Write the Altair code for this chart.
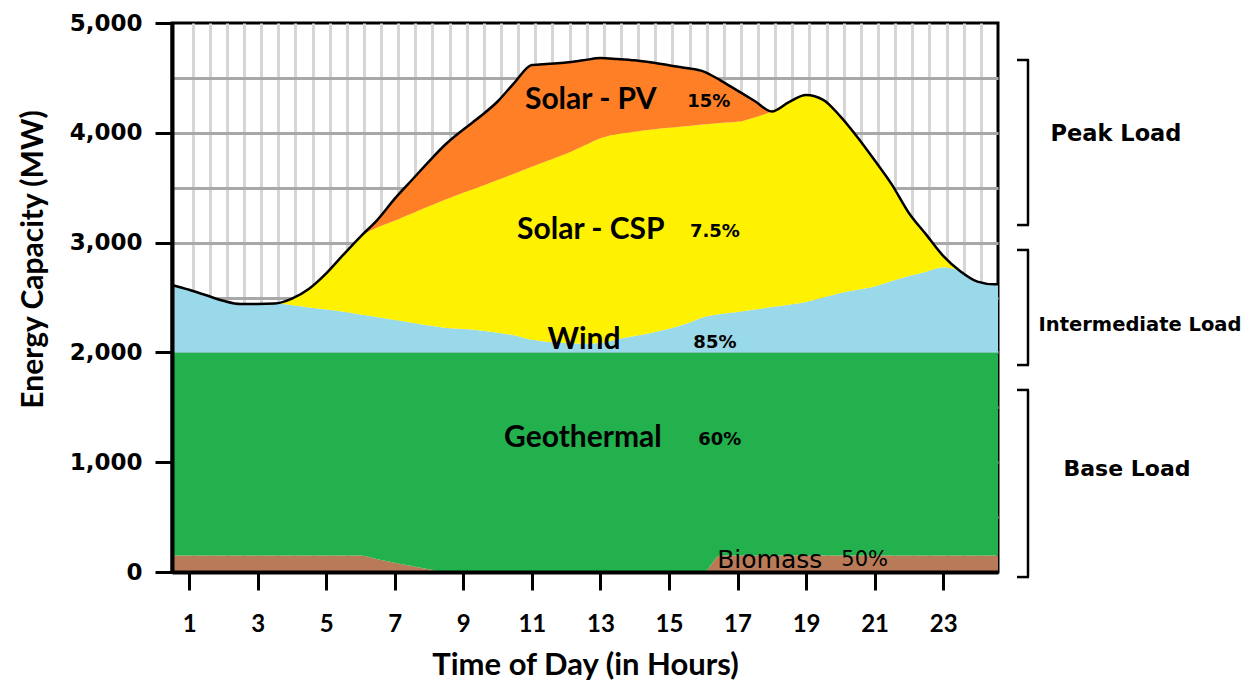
import altair as alt
import pandas as pd

# ---- data (MW) ----
hours = [0.5, 1.0, 1.5, 2.0, 2.5, 3.0, 3.5, 4.0, 4.5, 5.0, 5.5, 6.0,
         6.5, 7.0, 7.5, 8.0, 8.5, 9.0, 9.5, 10.0, 10.5, 11.0, 11.5, 12.0,
         12.5, 13.0, 13.5, 14.0, 14.5, 15.0, 15.5, 16.0, 16.5, 17.0, 17.5, 18.0,
         18.5, 19.0, 19.5, 20.0, 20.5, 21.0, 21.5, 22.0, 22.5, 23.0, 23.5, 24.0,
         24.5, 24.6]

biomass = [150, 150, 150, 150, 150, 150, 150, 150, 150, 150, 150, 150,
           115, 85, 55, 25, 0, 0, 0, 0, 0, 0, 0, 0,
           0, 0, 0, 0, 0, 0, 0, 0, 150, 150, 150, 150,
           150, 150, 150, 150, 150, 150, 150, 150, 150, 150, 150, 150,
           150, 150]

geothermal = [1850, 1850, 1850, 1850, 1850, 1850, 1850, 1850, 1850, 1850, 1850, 1850,
              1885, 1915, 1945, 1975, 2000, 2000, 2000, 2000, 2000, 2000, 2000, 2000,
              2000, 2000, 2000, 2000, 2000, 2000, 2000, 2000, 1850, 1850, 1850, 1850,
              1850, 1850, 1850, 1850, 1850, 1850, 1850, 1850, 1850, 1850, 1850, 1850,
              1850, 1850]

wind = [614, 570, 520, 470, 441, 441, 445, 430, 410, 390, 370, 345,
        320, 295, 270, 245, 222, 212, 200, 180, 155, 115, 95, 85,
        80, 85, 120, 150, 180, 215, 260, 320, 350, 368, 390, 413,
        435, 459, 500, 541, 570, 600, 650, 695, 735, 775, 740, 645,
        620, 620]

solar_csp = [0, 0, 0, 0, 0, 0, 0, 60, 170, 330, 520, 710,
             820, 905, 995, 1085, 1173, 1243, 1310, 1390, 1475, 1575, 1655, 1725,
             1800, 1865, 1870, 1860, 1850, 1830, 1800, 1755, 1740, 1732, 1750, 1782,
             1845, 1885, 1800, 1609, 1390, 1150, 880, 575, 340, 105, 0, 0,
             0, 0]

solar_pv = [0, 0, 0, 0, 0, 0, 0, 0, 0, 0, 0, 0,
            70, 200, 305, 410, 505, 575, 640, 715, 830, 927, 878, 830,
            780, 731, 682, 650, 610, 570, 530, 485, 388, 284, 150, 0,
            0, 0, 0, 0, 0, 0, 0, 0, 0, 0, 0, 0,
            0, 0]

sources = ["Biomass", "Geothermal", "Wind", "Solar - CSP", "Solar - PV"]
colors = ["#b97a57", "#22b14c", "#99d9ea", "#fff200", "#ff7f27"]

x_ticks = [1, 3, 5, 7, 9, 11, 13, 15, 17, 19, 21, 23]
y_ticks = [0, 1000, 2000, 3000, 4000, 5000]

# in-plot labels
name_labels = ["Solar - PV", "Solar - CSP", "Wind", "Geothermal"]
name_hours = [12.72, 12.72, 12.52, 12.49]
name_mw = [4300, 3115, 2113, 1220]
pct_labels = ["15%", "7.5%", "85%", "60%"]
pct_hours = [16.16, 16.34, 16.34, 16.48]
pct_mw = [4280, 3097, 2086, 1202]
bio_labels = ["Biomass"]
bio_hours = [17.94]
bio_mw = [112]
bio_pct_labels = ["50%"]
bio_pct_hours = [20.71]
bio_pct_mw = [105]

# load bands on the right
band_names = ["Peak Load", "Intermediate Load", "Base Load"]
band_top = [4663, 2933, 1658]
band_bottom = [3160, 1885, -46]
band_label_mw = [3985, 2245, 940]

# ---- tables ----
series = {"Biomass": biomass, "Geothermal": geothermal, "Wind": wind,
          "Solar - CSP": solar_csp, "Solar - PV": solar_pv}
rows = []
for rank, s in enumerate(sources):
    for h, v in zip(hours, series[s]):
        rows.append({"hour": h, "source": s, "rank": rank, "mw": v})
df = pd.DataFrame(rows)
total_df = pd.DataFrame({"hour": hours,
                         "total": [sum(v) for v in zip(*[series[s] for s in sources])]})

xs = alt.Scale(domain=[0.5, 24.6], nice=False, zero=False)
ys = alt.Scale(domain=[0, 5000], nice=False)

x_grid = [1.1 + 0.5 * i for i in range(47)]
y_grid = [500, 1000, 1500, 2000, 2500, 3000, 3500, 4000, 4500]

grid_layer = alt.Chart(total_df).mark_point(opacity=0).encode(
    x=alt.X("hour:Q", scale=xs, axis=alt.Axis(orient="top", values=x_grid, grid=True,
            gridColor="#d6d6d6", gridWidth=3, labels=False, ticks=False, domain=False,
            title=None, zindex=0)),
    y=alt.Y("total:Q", scale=ys, axis=alt.Axis(orient="right", values=y_grid, grid=True,
            gridColor="#a8a8a8", gridWidth=3, labels=False, ticks=False, domain=False,
            title=None, zindex=0)),
)

areas = alt.Chart(df).mark_area(interpolate="monotone").encode(
    x=alt.X("hour:Q", scale=xs, axis=alt.Axis(
        values=x_ticks, grid=False, domainColor="black", domainWidth=4,
        tickColor="black", tickWidth=3, tickSize=18,
        labelFont="Lato", labelFontWeight="bold", labelFontSize=24, labelColor="black",
        labelPadding=22, labelFlush=False, labelOverlap=False,
        title="Time of Day (in Hours)", titleFont="Lato", titleFontWeight="bold",
        titleFontSize=31, titleColor="black", titlePadding=14, zindex=1)),
    y=alt.Y("mw:Q", stack="zero", scale=ys, axis=alt.Axis(
        values=y_ticks, format=",.0f", grid=False, domainColor="black", domainWidth=4,
        tickColor="black", tickWidth=3, tickSize=17,
        labelFont="DejaVu Sans", labelFontWeight="bold", labelFontSize=23, labelColor="black",
        labelPadding=13, labelFlush=False, labelOverlap=False,
        title="Energy Capacity (MW)", titleFont="Lato", titleFontWeight="bold",
        titleFontSize=30, titleColor="black", titlePadding=21, titleY=236, zindex=1)),
    color=alt.Color("source:N", scale=alt.Scale(domain=sources, range=colors), legend=None),
    order=alt.Order("rank:Q", sort="ascending"),
)

line = alt.Chart(total_df).mark_line(color="black", strokeWidth=2.5,
                                     interpolate="monotone").encode(
    x=alt.X("hour:Q", scale=xs, axis=None),
    y=alt.Y("total:Q", scale=ys, axis=None),
)

names_df = pd.DataFrame({"text": name_labels, "hour": name_hours, "mw": name_mw})
pct_df = pd.DataFrame({"text": pct_labels, "hour": pct_hours, "mw": pct_mw})
bio_df = pd.DataFrame({"text": bio_labels, "hour": bio_hours, "mw": bio_mw})
bio_pct_df = pd.DataFrame({"text": bio_pct_labels, "hour": bio_pct_hours, "mw": bio_pct_mw})

def label_layer(data, **style):
    return alt.Chart(data).mark_text(color="black", align="center", baseline="middle",
                                     **style).encode(
        x=alt.X("hour:Q", scale=xs, axis=None),
        y=alt.Y("mw:Q", scale=ys, axis=None),
        text="text:N")

names = label_layer(names_df, font="Lato", fontWeight="bold", fontSize=30)
pcts = label_layer(pct_df, font="DejaVu Sans", fontWeight="bold", fontSize=18)
bios = label_layer(bio_df, font="DejaVu Sans", fontWeight=500, fontSize=25)
bio_pcts = label_layer(bio_pct_df, font="DejaVu Sans", fontSize=21)

band_df = pd.DataFrame({"name": band_names, "top": band_top, "bottom": band_bottom,
                        "label_mw": band_label_mw})
bracket_v = alt.Chart(band_df).mark_rule(color="black", strokeWidth=2.5).encode(
    x=alt.value(856), y=alt.Y("top:Q", scale=ys, axis=None), y2="bottom:Q")
bracket_t = alt.Chart(band_df).mark_rule(color="black", strokeWidth=2.5).encode(
    x=alt.value(845), x2=alt.value(857), y=alt.Y("top:Q", scale=ys, axis=None))
bracket_b = alt.Chart(band_df).mark_rule(color="black", strokeWidth=2.5).encode(
    x=alt.value(845), x2=alt.value(857), y=alt.Y("bottom:Q", scale=ys, axis=None))

band_x = [944, 968, 955]
band_size = [22.5, 19.5, 22]
band_texts = []
for i, nm in enumerate(band_names):
    band_texts.append(
        alt.Chart(band_df).transform_filter(alt.datum.name == nm).mark_text(
            font="DejaVu Sans", fontWeight="bold", fontSize=band_size[i], color="black",
            align="center", baseline="middle").encode(
            x=alt.value(band_x[i]), y=alt.Y("label_mw:Q", scale=ys, axis=None), text="name:N"))

chart = alt.layer(grid_layer, areas, line, names, pcts, bios, bio_pcts,
                  bracket_v, bracket_t, bracket_b, *band_texts).resolve_axis(
    x="independent", y="independent"
).properties(
    width=826, height=549,
    autosize=alt.AutoSizeParams(type="none"),
    padding={"left": 164, "top": 15, "right": 244, "bottom": 110},
    background="white",
).configure_view(stroke="black", strokeWidth=3)

chart.save("out.html", embed_options={"renderer": "svg", "actions": False})
